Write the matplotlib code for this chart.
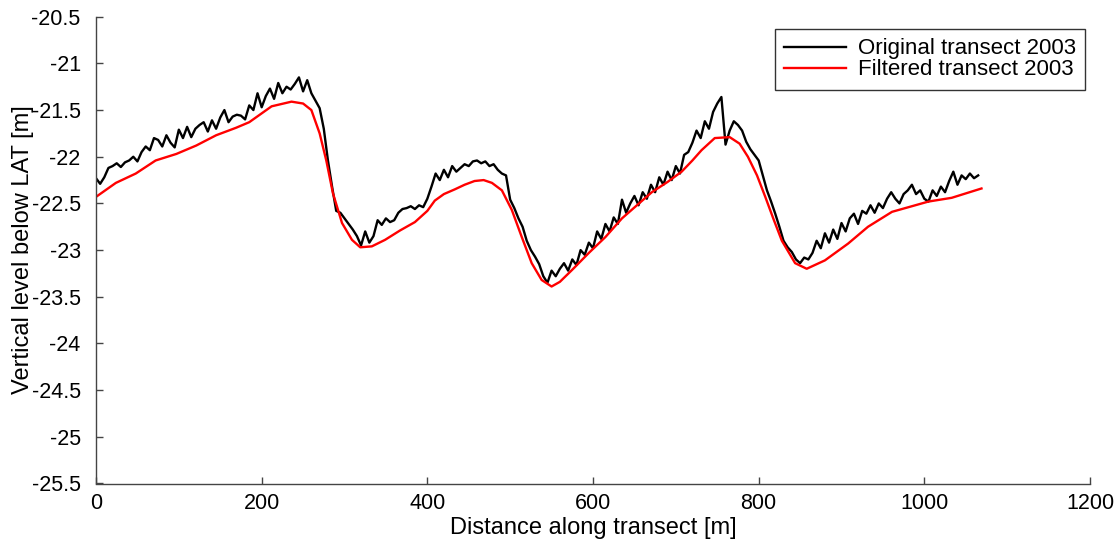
import matplotlib
matplotlib.use("Agg")
import matplotlib.pyplot as plt
import numpy as np

plt.rcParams['font.family'] = ['Liberation Sans', 'DejaVu Sans']

# Original transect 2003: sampled every 5 m from 0 to 1065 m
orig_step = 5
orig_values = [
    -22.23, -22.29, -22.22, -22.12, -22.10, -22.07, -22.11, -22.06, -22.04, -22.00,  # 0-45
    -22.05, -21.95, -21.89, -21.93, -21.80, -21.82, -21.89, -21.77, -21.85, -21.90,  # 50-95
    -21.71, -21.80, -21.68, -21.79, -21.70, -21.66, -21.63, -21.73, -21.61, -21.70,  # 100-145
    -21.58, -21.50, -21.63, -21.57, -21.55, -21.56, -21.60, -21.45, -21.50, -21.32,  # 150-195
    -21.47, -21.35, -21.27, -21.38, -21.21, -21.32, -21.25, -21.28, -21.22, -21.15,  # 200-245
    -21.30, -21.18, -21.32, -21.40, -21.48, -21.70, -22.04, -22.32, -22.58, -22.60,  # 250-295
    -22.66, -22.72, -22.78, -22.85, -22.95, -22.80, -22.92, -22.85, -22.68, -22.73,  # 300-345
    -22.66, -22.70, -22.68, -22.60, -22.56, -22.55, -22.53, -22.56, -22.52, -22.54,  # 350-395
    -22.45, -22.32, -22.18, -22.25, -22.14, -22.22, -22.10, -22.16, -22.12, -22.08,  # 400-445
    -22.10, -22.05, -22.04, -22.07, -22.05, -22.10, -22.08, -22.14, -22.18, -22.20,  # 450-495
    -22.46, -22.55, -22.66, -22.75, -22.90, -23.00, -23.07, -23.15, -23.28, -23.35,  # 500-545
    -23.22, -23.28, -23.20, -23.14, -23.22, -23.10, -23.16, -23.00, -23.05, -22.92,  # 550-595
    -22.98, -22.80, -22.88, -22.72, -22.80, -22.65, -22.72, -22.46, -22.60, -22.50,  # 600-645
    -22.42, -22.52, -22.38, -22.45, -22.30, -22.38, -22.22, -22.30, -22.16, -22.25,  # 650-695
    -22.10, -22.18, -21.98, -21.95, -21.85, -21.72, -21.80, -21.62, -21.70, -21.52,  # 700-745
    -21.43, -21.36, -21.87, -21.72, -21.62, -21.66, -21.72, -21.84, -21.92, -21.98,  # 750-795
    -22.04, -22.20, -22.36, -22.48, -22.61, -22.75, -22.90, -22.97, -23.02, -23.10,  # 800-845
    -23.14, -23.08, -23.10, -23.03, -22.90, -22.98, -22.82, -22.92, -22.78, -22.88,  # 850-895
    -22.71, -22.80, -22.66, -22.61, -22.72, -22.58, -22.61, -22.52, -22.60, -22.50,  # 900-945
    -22.55, -22.45, -22.38, -22.45, -22.50, -22.40, -22.36, -22.30, -22.40, -22.36,  # 950-995
    -22.45, -22.48, -22.36, -22.42, -22.32, -22.38, -22.26, -22.16, -22.30, -22.20,  # 1000-1045
    -22.24, -22.18, -22.23, -22.20,                                                    # 1050-1065
]
orig_distance = np.arange(len(orig_values)) * orig_step

# Filtered transect 2003
filt_distance = [0, 24, 48, 72, 97, 121, 145, 169, 185, 212, 236, 250, 260, 270, 278,
                 286, 297, 309, 319, 333, 349, 367, 385, 400, 409, 420, 433, 445, 457,
                 468, 478, 490, 502, 514, 526, 538, 550, 560, 575, 595, 615, 635, 653,
                 671, 690, 707, 720, 731, 747, 765, 777, 787, 798, 808, 818, 828, 844,
                 858, 880, 908, 932, 961, 985, 1005, 1033, 1069]
filt_values = [-22.43, -22.28, -22.18, -22.04, -21.97, -21.88, -21.77, -21.69, -21.63,
               -21.46, -21.41, -21.43, -21.50, -21.75, -22.04, -22.39, -22.71, -22.89,
               -22.97, -22.96, -22.89, -22.79, -22.70, -22.58, -22.47, -22.40, -22.35,
               -22.30, -22.26, -22.25, -22.28, -22.36, -22.57, -22.86, -23.14, -23.32,
               -23.39, -23.34, -23.21, -23.03, -22.86, -22.66, -22.52, -22.38, -22.27,
               -22.16, -22.04, -21.93, -21.80, -21.79, -21.86, -22.00, -22.20, -22.43,
               -22.67, -22.90, -23.14, -23.20, -23.11, -22.93, -22.75, -22.59, -22.53,
               -22.48, -22.44, -22.34]

x_ticks = [0, 200, 400, 600, 800, 1000, 1200]
y_ticks = [-25.5, -25, -24.5, -24, -23.5, -23, -22.5, -22, -21.5, -21, -20.5]
y_tick_labels = ['-25.5', '-25', '-24.5', '-24', '-23.5', '-23', '-22.5', '-22', '-21.5', '-21', '-20.5']

fig = plt.figure(figsize=(11.19, 5.42), dpi=100)
ax = fig.add_axes([96/1119, (542-483.5)/542, (1090-96)/1119, (483.5-16.7)/542])

ax.plot(orig_distance, orig_values, color='black', lw=1.7, label='Original transect 2003')
ax.plot(filt_distance, filt_values, color='#ff0000', lw=1.7, label='Filtered transect 2003')

ax.set_xlim(0, 1200)
ax.set_ylim(-25.5, -20.5)
ax.set_xticks(x_ticks)
ax.set_xticklabels([str(t) for t in x_ticks])
ax.set_yticks(y_ticks)
ax.set_yticklabels(y_tick_labels)

for s in ['top', 'right']:
    ax.spines[s].set_visible(False)
for s in ['left', 'bottom']:
    ax.spines[s].set_color('#444444')
    ax.spines[s].set_linewidth(1.0)
ax.tick_params(direction='in', length=5, width=1.0, color='#444444', labelsize=15.5)
ax.tick_params(axis='y', pad=11)
ax.tick_params(axis='x', pad=7)

ax.set_xlabel('Distance along transect [m]', fontsize=17, labelpad=2)
ax.set_ylabel('Vertical level below LAT [m]', fontsize=17, labelpad=-2)

leg = ax.legend(loc='upper right', bbox_to_anchor=(1085/1119, 1 - 29/542),
                bbox_transform=fig.transFigure, fontsize=16, frameon=True, fancybox=False,
                handlelength=2.8, handletextpad=0.5, borderpad=0.42, labelspacing=0.0,
                borderaxespad=0)
leg.get_frame().set_edgecolor('black')
leg.get_frame().set_linewidth(1.0)

fig.savefig('out.png', dpi=100)
